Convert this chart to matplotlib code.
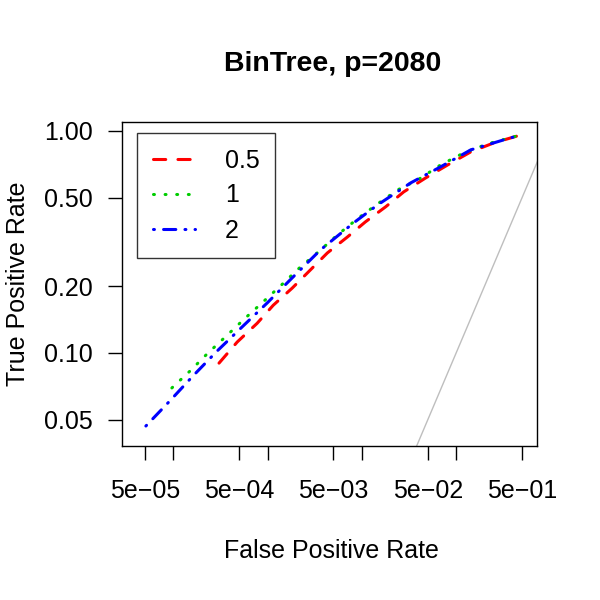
import matplotlib
matplotlib.use("Agg")
import matplotlib.pyplot as plt
from matplotlib.lines import Line2D

plt.rcParams['font.family'] = ['Liberation Sans', 'DejaVu Sans']

# ROC curves (log-log)
fpr_05 = [3.06e-4, 4.77e-4, 7.76e-4, 1.15e-3, 1.83e-3, 2.64e-3, 4.31e-3, 7.05e-3,
          0.0109, 0.0179, 0.0278, 0.0476, 0.0817, 0.143, 0.252, 0.488]
tpr_05 = [0.090, 0.112, 0.136, 0.164, 0.196, 0.229, 0.282, 0.333,
          0.389, 0.455, 0.531, 0.614, 0.703, 0.804, 0.883, 0.959]

fpr_1 = [9.68e-5, 1.51e-4, 2.34e-4, 3.64e-4, 5.65e-4, 9.0e-4, 1.40e-3, 2.17e-3, 3.46e-3,
         5.52e-3, 9.0e-3, 0.0147, 0.0240, 0.0391, 0.0687, 0.121, 0.217, 0.488]
tpr_1 = [0.0696, 0.0830, 0.100, 0.119, 0.142, 0.170, 0.202, 0.241, 0.285,
         0.340, 0.402, 0.469, 0.542, 0.601, 0.703, 0.796, 0.874, 0.959]

fpr_2 = [5.13e-5, 9.2e-5, 1.62e-4, 2.92e-4, 5.38e-4, 9.93e-4, 1.83e-3, 3.64e-3,
         8.17e-3, 0.0147, 0.0330, 0.0687, 0.143, 0.321, 0.488]
tpr_2 = [0.0469, 0.0608, 0.0788, 0.102, 0.131, 0.168, 0.218, 0.291,
         0.385, 0.464, 0.583, 0.689, 0.821, 0.911, 0.959]

xticks = [5e-5, 1e-4, 5e-4, 1e-3, 5e-3, 1e-2, 5e-2, 1e-1, 5e-1]
xlabels = ['5e\u221205', '', '5e\u221204', '', '5e\u221203', '', '5e\u221202', '', '5e\u221201']
yticks = [0.05, 0.10, 0.20, 0.50, 1.00]
ylabels = ['0.05', '0.10', '0.20', '0.50', '1.00']

fig = plt.figure(figsize=(6, 6), dpi=100)
ax = fig.add_axes([0.203, 0.257, 0.692, 0.54])
ax.set_xscale('log')
ax.set_yscale('log')
ax.set_xlim(2.85e-5, 0.72)
ax.set_ylim(0.0382, 1.098)

# diagonal y = x
diag = [1e-3, 1.0]
ax.plot(diag, diag, color='#bebebe', lw=1)

ls_05 = (0, (4, 4))
ls_1 = (0, (0.3, 3.5))
ls_2 = (0, (0.3, 3, 4, 3))
ax.plot(fpr_05, tpr_05, color='red', lw=2.2, linestyle=ls_05, dash_capstyle='round')
ax.plot(fpr_1, tpr_1, color='#00cd00', lw=2.2, linestyle=ls_1, dash_capstyle='round')
ax.plot(fpr_2, tpr_2, color='blue', lw=2.2, linestyle=ls_2, dash_capstyle='round')

ax.set_xticks(xticks)
ax.set_xticklabels(xlabels)
ax.set_yticks(yticks)
ax.set_yticklabels(ylabels)
ax.minorticks_off()
ax.tick_params(direction='out', length=10, width=1, labelsize=18)
ax.tick_params(axis='y', pad=11)
ax.tick_params(axis='x', pad=14)
for s in ax.spines.values():
    s.set_linewidth(1)

fig.text(333 / 600, 1 - 64 / 600, 'BinTree, p=2080', fontsize=20.5, fontweight='bold',
         ha='center', va='center')
fig.text(331 / 600, 1 - 551 / 600, 'False Positive Rate', fontsize=18, ha='center', va='center')
fig.text(18 / 600, 1 - 284 / 600, 'True Positive Rate', fontsize=18, ha='center', va='center',
         rotation=90)

handles = [
    Line2D([], [], color='red', lw=2.2, linestyle=ls_05, dash_capstyle='round'),
    Line2D([], [], color='#00cd00', lw=2.2, linestyle=ls_1, dash_capstyle='round'),
    Line2D([], [], color='blue', lw=2.2, linestyle=ls_2, dash_capstyle='round'),
]
leg = ax.legend(handles, ['0.5', '1', '2'], loc='upper left',
                bbox_to_anchor=(137 / 600, 1 - 133 / 600), bbox_transform=fig.transFigure,
                fontsize=18, frameon=True, fancybox=False, handlelength=1.7,
                handletextpad=1.2, borderpad=0.62, labelspacing=0.44, borderaxespad=0)
leg.get_frame().set_edgecolor('black')
leg.get_frame().set_linewidth(1)

fig.savefig('out.png', dpi=100)
